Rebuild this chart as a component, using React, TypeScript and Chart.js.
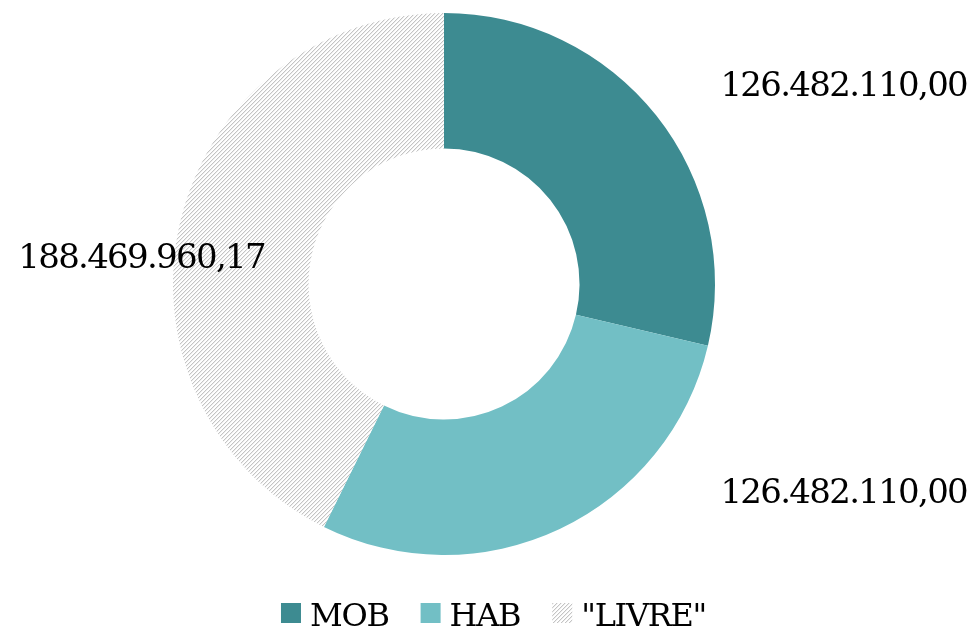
import React, { useEffect, useRef } from 'react';
import { Chart, registerables } from 'chart.js';

Chart.register(...registerables);

// ---- data ----
const categories = ['MOB', 'HAB', '"LIVRE"'];
const values = [126482110.0, 126482110.0, 188469960.17];
const solidColors = ['#3d8b91', '#72bfc5'];

// ---- layout (label anchors in units of the outer radius, relative to the arc centre) ----
const labelAnchors = [
  [1.475, -0.695],
  [1.475, 0.808],
  [-1.116, -0.059],
];

const FONT = '"DejaVu Serif", "Liberation Serif", serif';

function formatBR(v: number): string {
  const [int, dec] = v.toFixed(2).split('.');
  return int.replace(/\B(?=(\d{3})+(?!\d))/g, '.') + ',' + dec;
}

function makeHatch(): CanvasPattern | string {
  const c = document.createElement('canvas');
  const n = 4;
  c.width = n;
  c.height = n;
  const g = c.getContext('2d');
  if (!g) return '#d9d9d9';
  const img = g.createImageData(n, n);
  for (let yy = 0; yy < n; yy++) {
    for (let xx = 0; xx < n; xx++) {
      const idx = (yy * n + xx) * 4;
      const d = (xx + yy) % n;
      let v = 255;
      if (d === n - 1) v = 196;
      else if (d === 0) v = 238;
      img.data[idx] = v;
      img.data[idx + 1] = v;
      img.data[idx + 2] = v;
      img.data[idx + 3] = 255;
    }
  }
  g.putImageData(img, 0, 0);
  const p = g.createPattern(c, 'repeat');
  return p || '#d9d9d9';
}

function setSpacing(ctx: any, px: number) {
  if ('letterSpacing' in ctx) ctx.letterSpacing = `${px}px`;
}

const labelsPlugin = {
  id: 'valueLabelsAndLegend',
  afterDraw(chart: any) {
    const ctx: CanvasRenderingContext2D = chart.ctx;
    const meta = chart.getDatasetMeta(0);
    const data = chart.data.datasets[0].data as number[];
    ctx.save();
    ctx.font = `34px ${FONT}`;
    setSpacing(ctx, -1.7);
    ctx.fillStyle = '#000000';
    ctx.textAlign = 'left';
    ctx.textBaseline = 'alphabetic';
    meta.data.forEach((arc: any, i: number) => {
      const { x, y, outerRadius } = arc.getProps(['x', 'y', 'outerRadius'], true);
      const [ax, ay] = labelAnchors[i];
      const txt = formatBR(data[i]);
      const w = ctx.measureText(txt).width;
      ctx.fillText(txt, x + ax * outerRadius - w / 2, y + ay * outerRadius);
    });

    // legend
    const bg = chart.data.datasets[0].backgroundColor as any[];
    const labels = chart.data.labels as string[];
    const box = 20;
    const gapText = 9;
    const gapItem = 32;
    ctx.font = `32px ${FONT}`;
    setSpacing(ctx, -1.3);
    const widths = labels.map((l) => ctx.measureText(l).width);
    let total = 0;
    widths.forEach((w, i) => {
      total += box + gapText + w + (i < widths.length - 1 ? gapItem : 0);
    });
    let lx = chart.width / 2 + 7 - total / 2;
    const boxTop = 603;
    const baseline = 626;
    labels.forEach((l, i) => {
      ctx.fillStyle = bg[i];
      ctx.fillRect(lx, boxTop, box, box);
      ctx.fillStyle = '#000000';
      ctx.fillText(l, lx + box + gapText, baseline);
      lx += box + gapText + widths[i] + gapItem;
    });
    ctx.restore();
  },
};

export default function App() {
  const ref = useRef<HTMLCanvasElement | null>(null);
  useEffect(() => {
    if (!ref.current) return;
    const hatch = makeHatch();
    const chart = new Chart(ref.current, {
      type: 'doughnut',
      data: {
        labels: categories,
        datasets: [
          {
            data: values,
            backgroundColor: [solidColors[0], solidColors[1], hatch as any],
            borderWidth: 0,
            hoverOffset: 0,
            offset: 0,
          },
        ],
      },
      options: {
        responsive: false,
        animation: false,
        cutout: '50%',
        layout: { padding: { top: 13, bottom: 72, left: 0, right: 85 } },
        plugins: {
          legend: { display: false },
          tooltip: { enabled: false },
        },
      },
      plugins: [labelsPlugin],
    });
    return () => chart.destroy();
  }, []);
  return (
    <div style={{ position: 'fixed', left: 0, top: 0, width: 973, height: 627, background: '#ffffff' }}>
      <canvas ref={ref} width={973} height={627} />
    </div>
  );
}
